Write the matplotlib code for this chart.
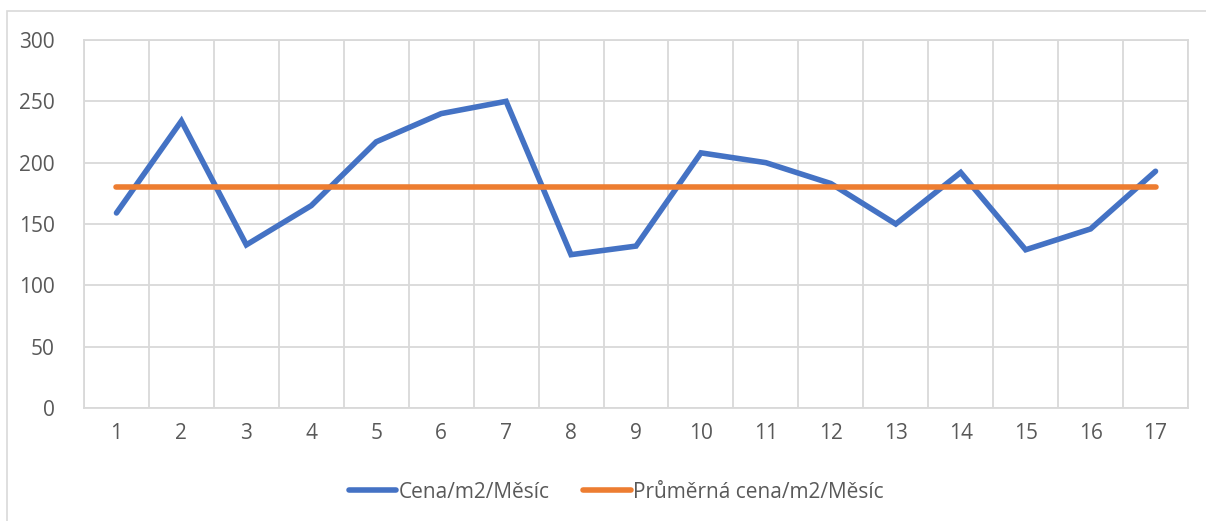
""" Cena/m2/Měsíc vs. průměrná cena, Excel style line chart. """

import matplotlib
matplotlib.use("Agg")
import matplotlib.pyplot as plt
from matplotlib.patches import Rectangle
from matplotlib.ticker import MultipleLocator

months = list(range(1, 18))
price = [159, 234, 133, 165, 217, 240, 250, 125, 132, 208, 200, 183, 150, 192, 129, 146, 193]
avg_price = [180] * len(months)
series_labels = ["Cena/m2/Měsíc", "Průměrná cena/m2/Měsíc"]

BLUE = "#4472C4"
ORANGE = "#ED7D31"
GRID = "#D9D9D9"
TEXT = "#595959"

plt.rcParams["font.family"] = ["Open Sans", "DejaVu Sans"]

fig = plt.figure(figsize=(12.06, 5.21), dpi=100)
ax = fig.add_axes([84 / 1206, 1 - 408 / 521, (1188 - 84) / 1206, (408 - 40) / 521])

# outer chart frame, as in the Excel export
fig.patches.append(Rectangle((7 / 1206, -0.1), 1.2, 1 - 11 / 521 + 0.1,
                             transform=fig.transFigure, fill=False,
                             edgecolor="#D9D9D9", linewidth=1.2))

ax.plot(months, price, color=BLUE, linewidth=4, solid_capstyle="round",
        solid_joinstyle="miter", label=series_labels[0], zorder=3)
ax.plot(months, avg_price, color=ORANGE, linewidth=4, solid_capstyle="round",
        label=series_labels[1], zorder=3)

ax.set_xlim(0.5, 17.5)
ax.set_ylim(0, 300)
ax.set_xticks(months)
ax.set_xticks([m + 0.5 for m in [0] + months], minor=True)
ax.yaxis.set_major_locator(MultipleLocator(50))

ax.grid(True, axis="y", which="major", color=GRID, linewidth=1.3)
ax.grid(True, axis="x", which="minor", color=GRID, linewidth=1.3)
ax.set_axisbelow(True)
for side in ax.spines.values():
    side.set_color(GRID)
    side.set_linewidth(1.3)

ax.tick_params(axis="both", which="both", length=0, labelsize=15, labelcolor=TEXT)
ax.tick_params(axis="y", pad=21)
ax.tick_params(axis="x", pad=11)

leg = fig.legend(loc="center", bbox_to_anchor=(616 / 1206, 1 - 492 / 521), ncol=2,
                 frameon=False, fontsize=15, handlelength=2.3, handletextpad=0.1,
                 columnspacing=1.6)
for t in leg.get_texts():
    t.set_color(TEXT)

fig.savefig("out.png", dpi=100)
